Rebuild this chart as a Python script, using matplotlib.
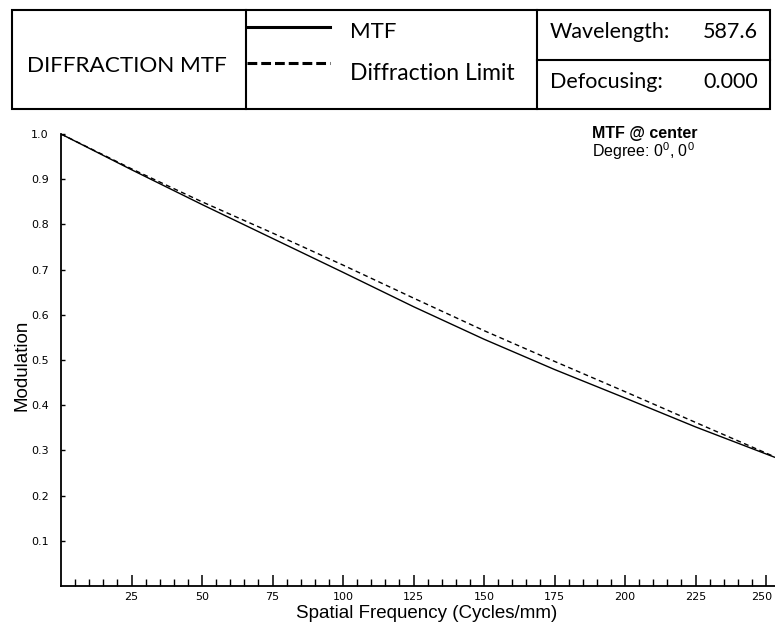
import matplotlib
matplotlib.use("Agg")
import matplotlib.pyplot as plt
import matplotlib.transforms as mtrans
from matplotlib.lines import Line2D
from matplotlib.patches import Rectangle

# ---- data ----
freq = [0, 25, 50, 75, 100, 125, 150, 175, 200, 225, 253]
mtf = [1.000, 0.921, 0.844, 0.769, 0.694, 0.618, 0.546, 0.479, 0.416, 0.352, 0.285]
diff_limit = [1.000, 0.923, 0.850, 0.781, 0.710, 0.637, 0.565, 0.497, 0.430, 0.362, 0.286]
x_major = [25, 50, 75, 100, 125, 150, 175, 200, 225, 250]
y_major = [0.1, 0.2, 0.3, 0.4, 0.5, 0.6, 0.7, 0.8, 0.9, 1.0]

plt.rcParams['mathtext.fontset'] = 'custom'
plt.rcParams['mathtext.rm'] = 'Liberation Sans'
plt.rcParams['mathtext.it'] = 'Liberation Sans'

W, H = 775, 623
fig = plt.figure(figsize=(W / 100, H / 100), dpi=100)

# main axes (pixel layout)
L, R, B, T = 61, 775, 586, 134
ax = fig.add_axes([L / W, (H - B) / H, (R - L) / W, (B - T) / H])
ax.plot(freq, mtf, color='black', lw=1.0, ls='-')
ax.plot(freq, diff_limit, color='black', lw=1.0, ls=(0, (3.5, 2.5)))
ax.set_xlim(0, (R - L) / 2.82)
ax.set_ylim(0, 1.0)
for s in ['top', 'right']:
    ax.spines[s].set_visible(False)
for s in ['left', 'bottom']:
    ax.spines[s].set_linewidth(1.3)
ax.set_xticks(x_major)
ax.set_xticks([v for v in range(5, 251, 5) if v % 25 != 0], minor=True)
ax.set_xticklabels([str(v) for v in x_major])
ax.set_yticks(y_major)
ax.set_yticklabels(['%.1f' % v for v in y_major])
ax.tick_params(axis='x', which='major', direction='in', length=8, width=1.1,
               pad=4, labelsize=8)
ax.tick_params(axis='x', which='minor', direction='in', length=5, width=1.0)
ax.tick_params(axis='y', which='major', direction='in', length=3, width=1.0,
               pad=9, labelsize=8)
for lab in ax.get_xticklabels() + ax.get_yticklabels():
    lab.set_family('DejaVu Sans')
# nudge the last x tick label inside the figure edge
last = ax.get_xticklabels()[-1]
last.set_transform(last.get_transform() +
                   mtrans.ScaledTranslation(-4 / 100, 0, fig.dpi_scale_trans))
ax.set_xlabel('Spatial Frequency (Cycles/mm)', family='Liberation Sans',
              fontsize=13.5, va='center')
ax.xaxis.set_label_coords((427 - L) / (R - L), (B - 613) / (B - T))
ax.set_ylabel('Modulation', family='Liberation Sans', fontsize=13.5, va='center')
ax.yaxis.set_label_coords((22 - L) / (R - L), (B - 365) / (B - T))

# overlay in pixel coordinates for header box and annotations
ov = fig.add_axes([0, 0, 1, 1], facecolor='none')
ov.set_xlim(0, W)
ov.set_ylim(H, 0)
ov.axis('off')

blw = 1.5
ov.add_patch(Rectangle((12, 10), 758, 99, fill=False, lw=blw, ec='black'))
ov.add_line(Line2D([246, 246], [10, 109], lw=blw, color='black'))
ov.add_line(Line2D([537, 537], [10, 109], lw=blw, color='black'))
ov.add_line(Line2D([537, 770], [60, 60], lw=blw, color='black'))

hf = 'Lato'
ov.text(27, 71.7, 'DIFFRACTION MTF', family=hf, fontsize=16.2, va='baseline', ha='left')
ov.add_line(Line2D([247, 330], [26.7, 26.7], lw=2.2, color='black'))
ov.add_line(Line2D([247, 330], [63.3, 63.3], lw=2.2, color='black',
                   ls=(0, (3.2, 1.3))))
ov.text(350, 38.3, 'MTF', family=hf, fontsize=16, va='baseline', ha='left')
ov.text(350, 80, 'Diffraction Limit', family=hf, fontsize=16.5, va='baseline', ha='left')
ov.text(550, 38.3, 'Wavelength:', family=hf, fontsize=15.5, va='baseline', ha='left')
ov.text(758, 38.3, '587.6', family=hf, fontsize=15.5, va='baseline', ha='right')
ov.text(550, 88.3, 'Defocusing:', family=hf, fontsize=15.5, va='baseline', ha='left')
ov.text(758, 88.3, '0.000', family=hf, fontsize=15.5, va='baseline', ha='right')

ov.text(592, 138.3, 'MTF @ center', family='Liberation Sans', fontsize=11.5,
        fontweight='bold', va='baseline', ha='left')
ov.text(592, 156.7, 'Degree: 0$^0$, 0$^0$', family='Liberation Sans', fontsize=11.5,
        va='baseline', ha='left')

fig.savefig('out.png', dpi=100)
